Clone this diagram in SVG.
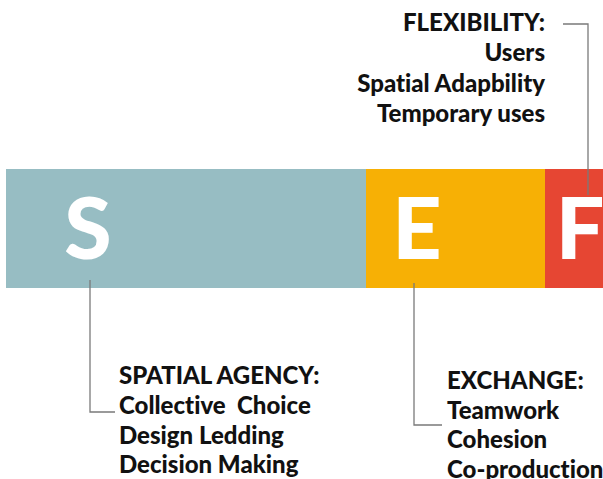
<svg xmlns="http://www.w3.org/2000/svg" width="603" height="479" viewBox="0 0 603 479">
<style>
.t{font-family:Lato,"Liberation Sans",sans-serif;font-weight:900;font-size:24px;fill:#111;font-variant-ligatures:none}
.big{font-family:Lato,"Liberation Sans",sans-serif;font-weight:900;font-size:86px;fill:#fff}
.c{fill:none;stroke:#7a7a7a;stroke-width:1.3}
</style>
<rect width="603" height="479" fill="#fff"/>
<g id="bar-S"><rect x="6" y="169" width="360" height="119" fill="#97bdc3"/><text class="big" x="88" y="259" text-anchor="middle">S</text></g>
<g id="bar-E"><rect x="366" y="169" width="179" height="119" fill="#f7b005"/><text class="big" x="417" y="259" text-anchor="middle">E</text></g>
<g id="bar-F"><rect x="545" y="169" width="58" height="119" fill="#e64633"/><text class="big" x="580" y="259" text-anchor="middle">F</text></g>
<g id="connectors">
<polyline class="c" points="90,280 90,412 115,412"/>
<polyline class="c" points="414,283 414,425 442,425"/>
<polyline class="c" points="588,195 588,24 563,24"/>
</g>
<g id="label-F"><text class="t" text-anchor="end"><tspan x="545" y="31">FLEXIBILITY:</tspan><tspan x="545" y="61">Users</tspan><tspan x="545" y="92">Spatial Adapbility</tspan><tspan x="545" y="122">Temporary uses</tspan></text></g>
<g id="label-S"><text class="t"><tspan x="119" y="384">SPATIAL AGENCY:</tspan><tspan x="119" y="414" xml:space="preserve">Collective  Choice</tspan><tspan x="119" y="444">Design Ledding</tspan><tspan x="119" y="473">Decision Making</tspan></text></g>
<g id="label-E"><text class="t"><tspan x="447" y="389">EXCHANGE:</tspan><tspan x="447" y="419">Teamwork</tspan><tspan x="447" y="448">Cohesion</tspan><tspan x="447" y="478">Co-production</tspan></text></g>
</svg>
